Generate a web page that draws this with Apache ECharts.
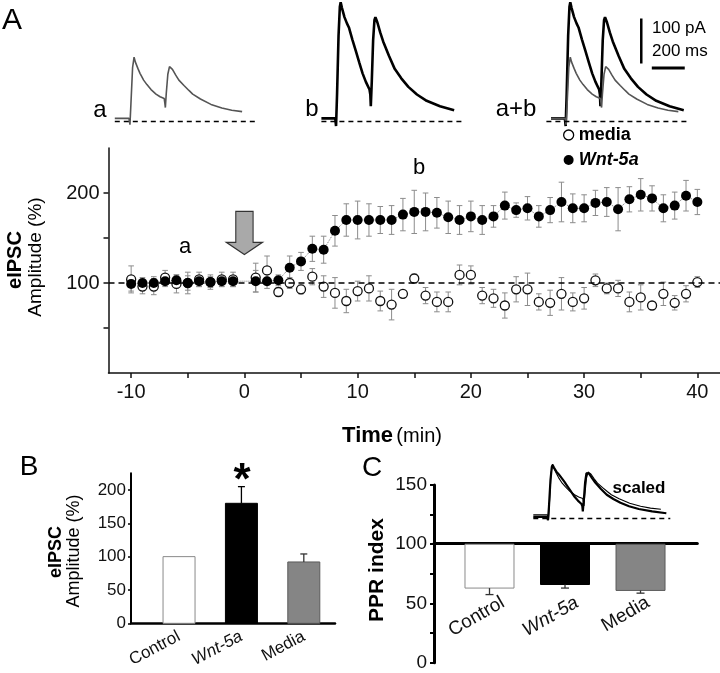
<!DOCTYPE html>
<html><head><meta charset="utf-8">
<script src="https://cdn.jsdelivr.net/npm/echarts@6/dist/echarts.min.js"></script>
<style>html,body{margin:0;padding:0;background:#fff}#c{width:720px;height:673px}</style>
</head><body><div id="c"></div>
<script>
const FONT = '"Liberation Sans", Arial, Helvetica, sans-serif';

// ---- Panel A: time course ----
const timeMin = [-10,-9,-8,-7,-6,-5,-4,-3,-2,-1,1,2,3,4,5,6,7,8,9,10,11,12,13,14,15,16,17,18,19,20,21,22,23,24,25,26,27,28,29,30,31,32,33,34,35,36,37,38,39,40];
const wntAmp = [99,100,100,102,103,100,102,101,102,102, 102,102,103,117,124,138,137,158,170,170, 170,170,170,176,179,179,178,173,170,174, 170,174,186,181,183,174,181,190,183,183, 189,190,182,193,198,194,183,186,197,190];
const wntErr = [8,6,7,6,6,8,6,6,6,6, 12,8,6,13,10,14,15,17,18,21, 18,15,16,18,24,21,17,18,16,17, 16,12,15,8,13,12,14,22,16,15, 14,16,24,14,18,14,15,15,17,14];
const mediaAmp = [104,96,96,106,99,100,104,101,104,104, 106,114,90,100,93,107,96,89,80,91, 94,80,76,88,105,86,79,79,109,109, 86,83,75,93,93,79,78,88,79,83, 103,94,94,79,84,75,88,78,88,101];
const mediaErr = [15,8,9,8,10,12,8,8,8,8, 16,16,5,6,5,9,12,17,13,11, 14,11,17,4,5,9,11,11,11,10, 9,10,14,14,18,9,14,18,10,12, 7,6,9,11,14,2,13,8,9,6];
const timeTicks = [-10,-5,0,5,10,15,20,25,30,35,40];
const timeLabels = [-10,0,10,20,30,40];
const ampTicks = [50,100,150,200];
const ampLabels = [100,200];

// Example traces (ms, pA)
const traceA = [[0,7],[86,7],[92,-7],[98,40],[108,120],[117,143],[125,132],[140,118],[153,107],[175,92],[195,82],[220,71],[250,61],[275,55],[300,51],[304,40],[307,31],[312,60],[322,105],[332,122],[339,124],[350,116],[370,103],[389,92],[420,80],[450,69],[473,61],[520,50],[584,38],[650,30],[710,25],[773,22]];
const traceB = [[0,7],[84,7],[89,-10],[95,60],[104,190],[112,255],[117,265],[125,252],[140,232],[155,218],[167,209],[188,182],[208,158],[230,131],[250,107],[270,88],[292,71],[297,60],[300,34],[306,90],[314,180],[322,225],[328,232],[340,220],[357,198],[375,178],[410,146],[445,117],[485,96],[528,77],[580,60],[639,46],[720,34],[806,25]];
const scaleBarPA = [[548,229],[548,129]];
const scaleBarMS = [[612,119],[812,119]];

// ---- Panel B ----
const barCategories = ['Control','Wnt-5a','Media'];
const eipscMean = [100,180,92];
const eipscErr = [0,25,12];
const eipscTicks = [0,50,100,150,200];

// ---- Panel C ----
const pprMean = [63,66,61];
const pprErr = [5.5,3,2.3];
const pprTicks = [0,25,50,75,100,125,150];
const pprLabels = [0,50,100,150];

const barFill = ['#ffffff','#000000','#858585'];
const barStroke = ['#8a8a8a','#000000','#5a5a5a'];

function errBoth(color){
  return function(params, api){
    const x = api.value(0), v = api.value(1), e = api.value(2);
    const t = api.coord([x, v+e]), b = api.coord([x, v-e]);
    const c = 2.8, st = {stroke: color, lineWidth: 1};
    return {type:'group', children:[
      {type:'line', shape:{x1:t[0],y1:t[1],x2:b[0],y2:b[1]}, style:st},
      {type:'line', shape:{x1:t[0]-c,y1:t[1],x2:t[0]+c,y2:t[1]}, style:st},
      {type:'line', shape:{x1:b[0]-c,y1:b[1],x2:b[0]+c,y2:b[1]}, style:st}
    ]};
  };
}
function catLabel(v){
  const n = barCategories[Math.round(v)];
  return n === 'Wnt-5a' ? '{i|' + n + '}' : '{n|' + n + '}';
}

const chart = echarts.init(document.getElementById('c'), null, {renderer:'canvas'});
const hidden = {show:false};
const axisCol = '#111';

const option = {
  animation: false,
  backgroundColor: '#fff',
  textStyle: {fontFamily: FONT},
  grid: [
    {left:108.5, width:611.5, top:148, height:225},
    {left:131, width:204, top:473.3, height:150},
    {left:434, width:263.3, top:485, height:177.7},
    {left:114.8, width:140, top:0, height:130.5},
    {left:321.4, width:140, top:0, height:130.5},
    {left:546.4, width:140, top:0, height:130.5},
    {left:533.3, width:137, top:464, height:62.3}
  ],
  xAxis: [
    {gridIndex:0, type:'value', min:-12, max:42,
      axisLine:{onZero:false, lineStyle:{color:axisCol, width:1.5}},
      axisTick:{customValues: timeTicks, length:5, lineStyle:{color:axisCol, width:1.5}},
      axisLabel:{customValues: timeLabels, fontSize:20, color:'#111', fontFamily:FONT, margin:9},
      splitLine:hidden},
    {gridIndex:1, type:'value', min:-0.77, max:2.5,
      axisLine:{onZero:false, lineStyle:{color:'#000', width:2.5}},
      axisTick:hidden,
      axisLabel:{customValues:[0,1,2], formatter: catLabel, rotate:28, margin:12,
        rich:{n:{fontSize:17, fontFamily:FONT, color:'#111'}, i:{fontSize:17, fontFamily:FONT, fontStyle:'italic', color:'#111'}}},
      splitLine:hidden},
    {gridIndex:2, type:'value', min:-0.735, max:2.752, offset:-119.4,
      axisLine:{onZero:false, lineStyle:{color:'#000', width:3}},
      axisTick:hidden,
      axisLabel:{customValues:[0.18,1.16,2.1], formatter: catLabel, rotate:30, margin:58,
        rich:{n:{fontSize:19, fontFamily:FONT, color:'#111'}, i:{fontSize:19, fontFamily:FONT, fontStyle:'italic', color:'#111'}}},
      splitLine:hidden},
    {gridIndex:3, type:'value', min:0, max:850, show:false},
    {gridIndex:4, type:'value', min:0, max:850, show:false},
    {gridIndex:5, type:'value', min:-28, max:822, show:false},
    {gridIndex:6, type:'value', min:0, max:830, show:false}
  ],
  yAxis: [
    {gridIndex:0, type:'value', min:0, max:250,
      axisLine:{show:true, onZero:false, lineStyle:{color:axisCol, width:1.5}},
      axisTick:{show:true, customValues: ampTicks, length:5, lineStyle:{color:axisCol, width:1.5}},
      axisLabel:{customValues: ampLabels, fontSize:20, color:'#111', fontFamily:FONT, margin:9},
      splitLine:hidden},
    {gridIndex:1, type:'value', min:0, max:225,
      axisLine:{show:true, onZero:false, lineStyle:{color:'#000', width:2}},
      axisTick:{show:true, customValues: eipscTicks, length:3, lineStyle:{color:'#000', width:1.5}},
      axisLabel:{customValues: eipscTicks, fontSize:17, color:'#111', fontFamily:FONT, margin:5},
      splitLine:hidden},
    {gridIndex:2, type:'value', min:0, max:150,
      axisLine:{show:true, onZero:false, lineStyle:{color:'#000', width:3}},
      axisTick:{show:true, customValues: pprTicks, length:4, lineStyle:{color:'#000', width:2}},
      axisLabel:{customValues: pprLabels, fontSize:19, color:'#111', fontFamily:FONT, margin:7},
      splitLine:hidden},
    {gridIndex:3, type:'value', min:-20, max:270, show:false},
    {gridIndex:4, type:'value', min:-20, max:270, show:false},
    {gridIndex:5, type:'value', min:-20, max:270, show:false},
    {gridIndex:6, type:'value', min:-40, max:270, show:false}
  ],
  legend: {
    orient:'vertical', left:558, top:121, itemWidth:10, itemHeight:10, itemGap:7,
    data:[
      {name:'media', icon:'circle', itemStyle:{color:'#fff', borderColor:'#000', borderWidth:1.3}},
      {name:'Wnt-5a', icon:'circle', itemStyle:{color:'#000'}}
    ],
    formatter: n => n === 'Wnt-5a' ? '{w|Wnt-5a}' : '{m|media}',
    textStyle:{fontFamily:FONT, fontSize:18, fontWeight:'bold', color:'#000',
      rich:{m:{fontFamily:FONT, fontSize:18, fontWeight:'bold'}, w:{fontFamily:FONT, fontSize:18, fontWeight:'bold', fontStyle:'italic'}}}
  },
  series: [
    {type:'custom', name:'mediaErr', xAxisIndex:0, yAxisIndex:0, z:1, silent:true,
      renderItem: errBoth('#8c8c8c'), encode:{x:0, y:1},
      data: timeMin.map((t,i)=>[t, mediaAmp[i], mediaErr[i]])},
    {type:'custom', name:'wntErr', xAxisIndex:0, yAxisIndex:0, z:1, silent:true,
      renderItem: errBoth('#8c8c8c'), encode:{x:0, y:1},
      data: timeMin.map((t,i)=>[t, wntAmp[i], wntErr[i]])},
    {type:'scatter', name:'media', xAxisIndex:0, yAxisIndex:0, z:3,
      symbol:'circle', symbolSize:9,
      itemStyle:{color:'#fff', borderColor:'#111', borderWidth:1.3, opacity:1},
      data: timeMin.map((t,i)=>[t, mediaAmp[i]]),
      markLine:{silent:true, symbol:'none', animation:false,
        lineStyle:{color:'#000', type:[6,4], width:1.5}, label:{show:false},
        data:[{yAxis:100}]},
      markPoint:{silent:true, animation:false,
        data:[{coord:[0,155.6], symbol:'path://M9.4,0 L26.7,0 L26.7,31 L36,31 L18,43.3 L0,31 L9.4,31 Z',
          symbolSize:[36,43.3], itemStyle:{color:'#a9a9a9', borderColor:'#333', borderWidth:1.2}, label:{show:false}}]}},
    {type:'line', name:'Wnt-5a', xAxisIndex:0, yAxisIndex:0, z:4,
      symbol:'circle', symbolSize:10, showAllSymbol:true,
      itemStyle:{color:'#000'},
      lineStyle:{color:'#777', width:1, type:'dotted'},
      data: timeMin.map((t,i)=>[t, wntAmp[i]])},

    {type:'custom', name:'eipscBars', xAxisIndex:1, yAxisIndex:1, silent:true, encode:{x:0, y:1},
      renderItem: function(params, api){
        const i = api.value(0), v = api.value(1);
        const p0 = api.coord([i,0]), p1 = api.coord([i,v]);
        const w = 32;
        return {type:'rect', shape:{x:p0[0]-w/2, y:p1[1], width:w, height:p0[1]-p1[1]},
          style:{fill:barFill[i], stroke:barStroke[i], lineWidth:1}};
      },
      data: barCategories.map((c,i)=>[i, eipscMean[i]])},
    {type:'custom', name:'eipscErr', xAxisIndex:1, yAxisIndex:1, silent:true, z:3, encode:{x:0, y:1},
      renderItem: function(params, api){
        const i = api.value(0), v = api.value(1), e = api.value(2);
        if (!e) return null;
        const b = api.coord([i,v]), t = api.coord([i,v+e]);
        const col = i === 1 ? '#000' : '#333';
        return {type:'group', children:[
          {type:'line', shape:{x1:t[0],y1:t[1],x2:b[0],y2:b[1]}, style:{stroke:col, lineWidth:1.3}},
          {type:'line', shape:{x1:t[0]-3.5,y1:t[1],x2:t[0]+3.5,y2:t[1]}, style:{stroke:col, lineWidth:1.3}}
        ]};
      },
      data: barCategories.map((c,i)=>[i, eipscMean[i], eipscErr[i]])},

    {type:'custom', name:'pprBars', xAxisIndex:2, yAxisIndex:2, silent:true, encode:{x:0, y:1},
      renderItem: function(params, api){
        const i = api.value(0), v = api.value(1);
        const p0 = api.coord([i,100]), p1 = api.coord([i,v]);
        const w = 49;
        return {type:'rect', shape:{x:p0[0]-w/2, y:p0[1], width:w, height:p1[1]-p0[1]},
          style:{fill:barFill[i], stroke:barStroke[i], lineWidth:1}};
      },
      data: barCategories.map((c,i)=>[i, pprMean[i]])},
    {type:'custom', name:'pprErr', xAxisIndex:2, yAxisIndex:2, silent:true, z:3, encode:{x:0, y:1},
      renderItem: function(params, api){
        const i = api.value(0), v = api.value(1), e = api.value(2);
        const t = api.coord([i,v]), b = api.coord([i,v-e]);
        const col = '#333';
        return {type:'group', children:[
          {type:'line', shape:{x1:t[0],y1:t[1],x2:b[0],y2:b[1]}, style:{stroke:col, lineWidth:1.3}},
          {type:'line', shape:{x1:b[0]-4,y1:b[1],x2:b[0]+4,y2:b[1]}, style:{stroke:col, lineWidth:1.3}}
        ]};
      },
      data: barCategories.map((c,i)=>[i, pprMean[i], pprErr[i]])},

    {type:'line', name:'ta', xAxisIndex:3, yAxisIndex:3, showSymbol:false, silent:true,
      lineStyle:{color:'#555', width:1.6}, data: traceA,
      markLine:{silent:true, symbol:'none', lineStyle:{color:'#000', type:[5,4], width:1.3}, label:{show:false}, data:[{yAxis:0}]}},
    {type:'line', name:'tb', xAxisIndex:4, yAxisIndex:4, showSymbol:false, silent:true,
      lineStyle:{color:'#000', width:2.6}, data: traceB,
      markLine:{silent:true, symbol:'none', lineStyle:{color:'#000', type:[5,4], width:1.3}, label:{show:false}, data:[{yAxis:0}]}},
    {type:'line', name:'tab_b', xAxisIndex:5, yAxisIndex:5, showSymbol:false, silent:true, z:2,
      lineStyle:{color:'#000', width:2.6}, data: traceB,
      markLine:{silent:true, symbol:'none', lineStyle:{color:'#000', type:[5,4], width:1.3}, label:{show:false}, data:[{yAxis:0}]}},
    {type:'line', name:'tab_a', xAxisIndex:5, yAxisIndex:5, showSymbol:false, silent:true, z:3,
      lineStyle:{color:'#555', width:1.6}, data: traceA},
    {type:'line', name:'sbv', xAxisIndex:5, yAxisIndex:5, showSymbol:false, silent:true,
      lineStyle:{color:'#000', width:2.5}, data: scaleBarPA},
    {type:'line', name:'sbh', xAxisIndex:5, yAxisIndex:5, showSymbol:false, silent:true,
      lineStyle:{color:'#000', width:3}, data: scaleBarMS},
    {type:'line', name:'insB', xAxisIndex:6, yAxisIndex:6, showSymbol:false, silent:true, z:2,
      lineStyle:{color:'#000', width:2.2}, data: traceB,
      markLine:{silent:true, symbol:'none', lineStyle:{color:'#000', type:[5,4], width:1.3}, label:{show:false}, data:[{yAxis:0}]}},
    {type:'line', name:'insA', xAxisIndex:6, yAxisIndex:6, showSymbol:false, silent:true, z:3,
      lineStyle:{color:'#000', width:1.1},
      data: (function(){ const k = Math.max(...traceB.map(p=>p[1])) / Math.max(...traceA.map(p=>p[1])); return traceA.map(p=>[p[0], p[1]*k + 4]); })()}
  ],
  graphic: [
    {type:'text', x:12, y:21, style:{text:'A', font:'30px '+FONT, fill:'#000', align:'center', verticalAlign:'middle'}},
    {type:'text', x:29, y:467, style:{text:'B', font:'28px '+FONT, fill:'#000', align:'center', verticalAlign:'middle'}},
    {type:'text', x:372, y:468, style:{text:'C', font:'28px '+FONT, fill:'#000', align:'center', verticalAlign:'middle'}},
    {type:'text', x:100, y:110, style:{text:'a', font:'24px '+FONT, fill:'#000', align:'center', verticalAlign:'middle'}},
    {type:'text', x:312, y:109, style:{text:'b', font:'24px '+FONT, fill:'#000', align:'center', verticalAlign:'middle'}},
    {type:'text', x:516, y:109, style:{text:'a+b', font:'24px '+FONT, fill:'#000', align:'center', verticalAlign:'middle'}},
    {type:'text', x:652, y:28, style:{text:'100 pA', font:'17px '+FONT, fill:'#000', align:'left', verticalAlign:'middle'}},
    {type:'text', x:652, y:51, style:{text:'200 ms', font:'17px '+FONT, fill:'#000', align:'left', verticalAlign:'middle'}},
    {type:'text', x:185, y:247, style:{text:'a', font:'22px '+FONT, fill:'#000', align:'center', verticalAlign:'middle'}},
    {type:'text', x:419, y:168, style:{text:'b', font:'22px '+FONT, fill:'#000', align:'center', verticalAlign:'middle'}},
    {type:'text', x:15, y:260, rotation:Math.PI/2, style:{text:'eIPSC', font:'bold 20px '+FONT, fill:'#000', align:'center', verticalAlign:'middle'}},
    {type:'text', x:36, y:257, rotation:Math.PI/2, style:{text:'Amplitude (%)', font:'19px '+FONT, fill:'#000', align:'center', verticalAlign:'middle'}},
    {type:'text', x:392, y:436, style:{text:'{b|Time} {n|(min)}', align:'center', verticalAlign:'middle',
      rich:{b:{font:'bold 22px '+FONT, fill:'#000'}, n:{font:'20px '+FONT, fill:'#000'}}}},
    {type:'text', x:56, y:552, rotation:Math.PI/2, style:{text:'eIPSC', font:'bold 18px '+FONT, fill:'#000', align:'center', verticalAlign:'middle'}},
    {type:'text', x:74, y:551, rotation:Math.PI/2, style:{text:'Amplitude (%)', font:'18px '+FONT, fill:'#000', align:'center', verticalAlign:'middle'}},
    {type:'text', x:242, y:482, style:{text:'*', font:'bold 44px '+FONT, fill:'#000', align:'center', verticalAlign:'middle'}},
    {type:'text', x:377, y:570, rotation:Math.PI/2, style:{text:'PPR index', font:'bold 21px '+FONT, fill:'#000', align:'center', verticalAlign:'middle'}},
    {type:'text', x:639, y:488, style:{text:'scaled', font:'bold 17px '+FONT, fill:'#000', align:'center', verticalAlign:'middle'}}
  ]
};
chart.setOption(option);
</script>
</body></html>
